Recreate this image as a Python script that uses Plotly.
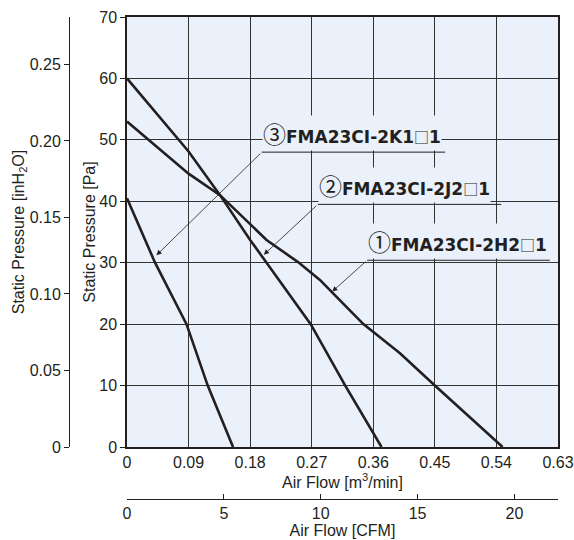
import plotly.graph_objects as go

# ---- data ----
flow_h2 = [0, 0.09, 0.136, 0.204, 0.250, 0.282, 0.311, 0.3455, 0.399, 0.450, 0.549]
pres_h2 = [53, 44.5, 41, 33.7, 30.1, 27.2, 23.9, 20, 15.25, 10, 0]

flow_j2 = [0, 0.09, 0.136, 0.180, 0.204, 0.2685, 0.319, 0.372]
pres_j2 = [60, 48.1, 41, 33.7, 30, 20, 10, 0]

flow_k1 = [0, 0.041, 0.087, 0.118, 0.155]
pres_k1 = [40.5, 30, 20, 10, 0]

model_names = ["FMA23CI-2H2\u25a11", "FMA23CI-2J2\u25a11", "FMA23CI-2K1\u25a11"]
model_marks = ["\u2460", "\u2461", "\u2462"]

x_ticks = [0, 0.09, 0.18, 0.27, 0.36, 0.45, 0.54, 0.63]
x_tick_text = ["0", "0.09", "0.18", "0.27", "0.36", "0.45", "0.54", "0.63"]
y_ticks = [0, 10, 20, 30, 40, 50, 60, 70]
inh2o_ticks = [0, 0.05, 0.10, 0.15, 0.20, 0.25]
inh2o_text = ["0", "0.05", "0.10", "0.15", "0.20", "0.25"]
cfm_ticks = [0, 5, 10, 15, 20]

X_MAX = 0.63
Y_MAX = 70
PA_PER_INH2O = 249.089
M3MIN_PER_CFM = 0.0283168

# label placement (data coords): text left, underline y, underline end, arrow head
label_pos = [  # (x_left, underline_y, underline_x_end, head_x, head_y)
    (0.351, 30.4, 0.618, 0.300, 25.3),
    (0.279, 39.5, 0.547, 0.200, 31.3),
    (0.197, 48.0, 0.465, 0.043, 31.2),
]

BG = "#EAF1FA"
INK = "#231f20"
FONT = "Liberation Sans, Arial, sans-serif"
CJK = "Noto Sans CJK JP"

fig = go.Figure()
for fx, py in [(flow_h2, pres_h2), (flow_j2, pres_j2), (flow_k1, pres_k1)]:
    fig.add_trace(go.Scatter(x=fx, y=py, mode="lines",
                             line=dict(color=INK, width=2.6),
                             hoverinfo="skip", showlegend=False))

# same curve in the secondary units, drawn transparent so the CFM and inH2O axes exist
fig.add_trace(go.Scatter(x=[f / M3MIN_PER_CFM for f in flow_h2], y=pres_h2, xaxis="x2", yaxis="y",
                         mode="lines", line=dict(color="rgba(0,0,0,0)"), hoverinfo="skip",
                         showlegend=False))
fig.add_trace(go.Scatter(x=flow_h2, y=[p / PA_PER_INH2O for p in pres_h2], xaxis="x", yaxis="y2",
                         mode="lines", line=dict(color="rgba(0,0,0,0)"), hoverinfo="skip",
                         showlegend=False))

for mark, name, (xl, uy, ux, hx, hy) in zip(model_marks, model_names, label_pos):
    head, tail = name.split("\u25a1")
    fig.add_shape(type="line", xref="x", yref="y", x0=xl, x1=ux, y0=uy, y1=uy,
                  line=dict(color=INK, width=1))
    fig.add_annotation(
        x=xl, y=uy, xref="x", yref="y", xanchor="left", yanchor="bottom", yshift=1,
        text=(f"<span style='font-family:{CJK};font-size:23px'>{mark}</span>"
              f"<b>{head}</b>"
              f"<span style='font-family:{CJK};font-size:15px'>\u25a1</span>"
              f"<b>{tail}</b>"),
        showarrow=False, bgcolor=BG, borderpad=0,
        font=dict(family="DejaVu Sans, sans-serif", size=17, color=INK))
    fig.add_annotation(
        x=hx, y=hy, ax=xl, ay=uy, xref="x", yref="y", axref="x", ayref="y",
        text="", showarrow=True, arrowhead=2, arrowsize=1.3, arrowwidth=0.8,
        arrowcolor=INK, standoff=0, startstandoff=0)

fig.update_layout(
    width=574, height=540,
    margin=dict(l=10, r=16, t=17, b=10),
    paper_bgcolor="white", plot_bgcolor=BG,
    font=dict(family=FONT, size=16, color=INK),
    xaxis=dict(domain=[0.2135, 1], range=[0, X_MAX], tickvals=x_ticks, ticktext=x_tick_text,
               showgrid=True, gridcolor="#333333", gridwidth=1,
               showline=True, linecolor=INK, linewidth=1.5, mirror=True,
               ticks="", zeroline=False, automargin=False,
               title=dict(text="Air Flow [m<sup>3</sup>/min]", font=dict(size=16), standoff=3)),
    yaxis=dict(range=[0, Y_MAX], tickvals=y_ticks, domain=[0.1618, 1],
               showgrid=True, gridcolor="#333333", gridwidth=1,
               showline=True, linecolor=INK, linewidth=1.5, mirror=True,
               ticks="outside", ticklen=5, tickcolor=INK, zeroline=False, automargin=False,
               title=dict(text="Static Pressure [Pa]", font=dict(size=16), standoff=0)),
    yaxis2=dict(overlaying="y", anchor="free", position=0.1077, side="left",
                range=[0, Y_MAX / PA_PER_INH2O], tickvals=inh2o_ticks, ticktext=inh2o_text,
                showgrid=False, zeroline=False, showline=True, linecolor=INK, linewidth=1,
                ticks="outside", ticklen=5, tickcolor=INK, automargin=False,
                title=dict(text="Static Pressure [inH<sub>2</sub>O]", font=dict(size=16), standoff=0)),
    xaxis2=dict(overlaying="x", anchor="free", position=0.0604, side="bottom",
                range=[0, X_MAX / M3MIN_PER_CFM], tickvals=cfm_ticks,
                showgrid=False, zeroline=False, showline=True, linecolor=INK, linewidth=1,
                ticks="inside", ticklen=5, tickcolor=INK, automargin=False,
                title=dict(text="Air Flow [CFM]", font=dict(size=16), standoff=2)),
)

fig.write_html("out.html", config={"displayModeBar": False},
               post_script="document.body.style.margin='0';")
